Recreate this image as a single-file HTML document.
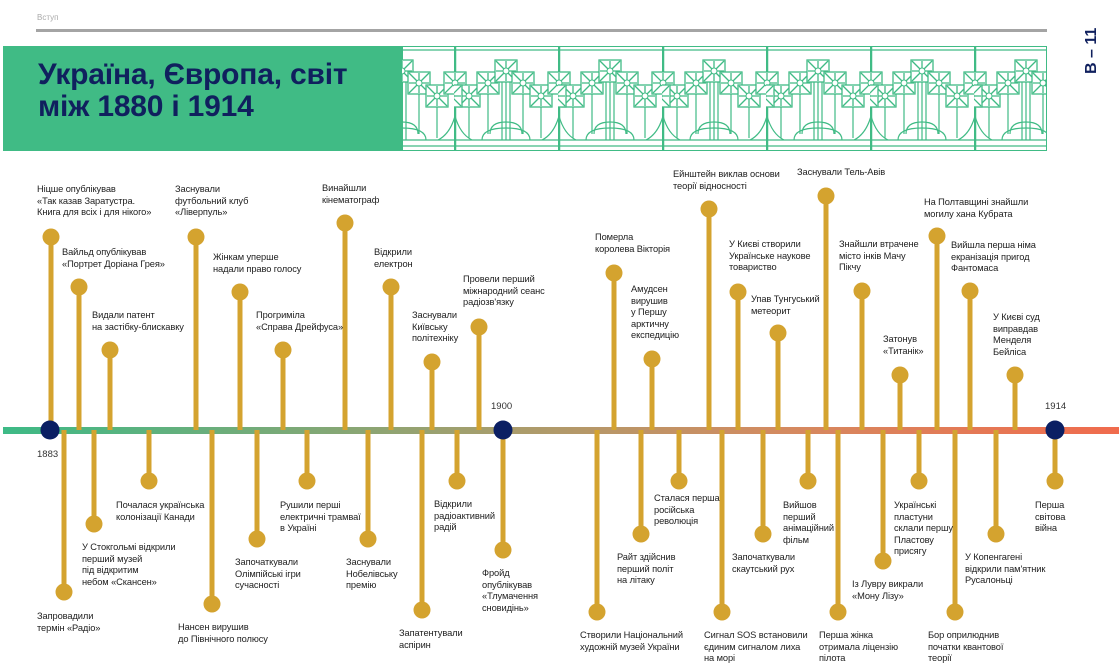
<!DOCTYPE html>
<html><head><meta charset="utf-8"><style>
*{margin:0;padding:0;box-sizing:border-box}
body{width:1119px;height:672px;position:relative;background:#fff;overflow:hidden;font-family:"Liberation Sans","DejaVu Sans",sans-serif;color:#1e1e1e}
.t{position:absolute;font-size:9.3px;line-height:11.6px;white-space:nowrap;letter-spacing:-0.1px}
.y{position:absolute;font-size:9.5px;color:#333}
</style></head><body>
<div class="y" style="left:37px;top:13px;color:#aaa;font-size:8px">Вступ</div>
<div style="position:absolute;left:36px;top:29px;width:1011px;height:3px;background:#a4a4a4"></div>
<div style="position:absolute;left:3px;top:46px;width:400px;height:105px;background:#40bb85"></div>
<div style="position:absolute;left:38px;top:59px;font-size:30px;line-height:32px;font-weight:bold;color:#10205e;letter-spacing:-0.2px">Україна, Європа, світ<br>між 1880 і 1914</div>
<div style="position:absolute;left:1083px;top:74px;transform:rotate(-90deg);transform-origin:0 0;font-size:16px;font-weight:bold;color:#10205e;white-space:nowrap;width:44px">В – 11</div>

<svg style="position:absolute;left:0;top:0" width="1119" height="672">
<defs>
<g id="fl"><rect x="-11" y="-11" width="22" height="22" fill="#fff" stroke="#40bb85" stroke-width="1.3"/><g stroke="#40bb85" stroke-width="1.3"><line x1="-10" y1="-10" x2="10" y2="10"/><line x1="10" y1="-10" x2="-10" y2="10"/><line x1="0" y1="-10" x2="0" y2="10"/><line x1="-10" y1="0" x2="10" y2="0"/></g><circle r="3" fill="#fff" stroke="#40bb85"/></g>
<pattern id="orn" x="350" y="46" width="104" height="105" patternUnits="userSpaceOnUse">
<g fill="none" stroke="#40bb85" stroke-width="1.2">
<line x1="1" y1="0" x2="1" y2="105" stroke-width="2.5"/>
<line x1="0" y1="4" x2="104" y2="4"/><line x1="0" y1="100" x2="104" y2="100"/>
<line x1="0" y1="94" x2="104" y2="94"/>
<path d="M15 50V92M34 37V88M52 25V94M69 37V88M87 50V92M48 25V94M56 25V94"/>
<path d="M36 88 Q36 76 52 76 Q68 76 68 88 M28 94 Q28 82 52 82 Q76 82 76 94"/>
<path d="M1 70 Q6 88 18 94 M1 70 Q-4 88 -16 94 M105 70 Q100 88 88 94"/>
</g>
<use href="#fl" x="1" y="37"/><use href="#fl" x="15" y="50"/><use href="#fl" x="34" y="37"/><use href="#fl" x="52" y="25"/><use href="#fl" x="69" y="37"/><use href="#fl" x="87" y="50"/><use href="#fl" x="105" y="37"/><use href="#fl" x="-3" y="50"/>
</pattern>
<linearGradient id="tl" x1="0" x2="1"><stop offset="0" stop-color="#3dba86"/><stop offset="0.45" stop-color="#a99d6c"/><stop offset="0.7" stop-color="#d48a60"/><stop offset="1" stop-color="#f06b4d"/></linearGradient>
</defs>
<rect x="401" y="46" width="646" height="105" fill="url(#orn)"/>
<rect x="401.5" y="46.5" width="645" height="104" fill="none" stroke="#40bb85"/>
<rect x="3" y="427" width="1116" height="7" fill="url(#tl)"/>
<g stroke="#d4a32f" stroke-width="5" fill="#d4a32f">
<line x1="51" y1="237" x2="51" y2="430"/><circle cx="51" cy="237" r="8.5" stroke="none"/>
<line x1="79" y1="287" x2="79" y2="430"/><circle cx="79" cy="287" r="8.5" stroke="none"/>
<line x1="110" y1="350" x2="110" y2="430"/><circle cx="110" cy="350" r="8.5" stroke="none"/>
<line x1="196" y1="237" x2="196" y2="430"/><circle cx="196" cy="237" r="8.5" stroke="none"/>
<line x1="240" y1="292" x2="240" y2="430"/><circle cx="240" cy="292" r="8.5" stroke="none"/>
<line x1="283" y1="350" x2="283" y2="430"/><circle cx="283" cy="350" r="8.5" stroke="none"/>
<line x1="345" y1="223" x2="345" y2="430"/><circle cx="345" cy="223" r="8.5" stroke="none"/>
<line x1="391" y1="287" x2="391" y2="430"/><circle cx="391" cy="287" r="8.5" stroke="none"/>
<line x1="432" y1="362" x2="432" y2="430"/><circle cx="432" cy="362" r="8.5" stroke="none"/>
<line x1="479" y1="327" x2="479" y2="430"/><circle cx="479" cy="327" r="8.5" stroke="none"/>
<line x1="614" y1="273" x2="614" y2="430"/><circle cx="614" cy="273" r="8.5" stroke="none"/>
<line x1="652" y1="359" x2="652" y2="430"/><circle cx="652" cy="359" r="8.5" stroke="none"/>
<line x1="709" y1="209" x2="709" y2="430"/><circle cx="709" cy="209" r="8.5" stroke="none"/>
<line x1="738" y1="292" x2="738" y2="430"/><circle cx="738" cy="292" r="8.5" stroke="none"/>
<line x1="778" y1="333" x2="778" y2="430"/><circle cx="778" cy="333" r="8.5" stroke="none"/>
<line x1="826" y1="196" x2="826" y2="430"/><circle cx="826" cy="196" r="8.5" stroke="none"/>
<line x1="862" y1="291" x2="862" y2="430"/><circle cx="862" cy="291" r="8.5" stroke="none"/>
<line x1="900" y1="375" x2="900" y2="430"/><circle cx="900" cy="375" r="8.5" stroke="none"/>
<line x1="937" y1="236" x2="937" y2="430"/><circle cx="937" cy="236" r="8.5" stroke="none"/>
<line x1="970" y1="291" x2="970" y2="430"/><circle cx="970" cy="291" r="8.5" stroke="none"/>
<line x1="1015" y1="375" x2="1015" y2="430"/><circle cx="1015" cy="375" r="8.5" stroke="none"/>
<line x1="64" y1="430" x2="64" y2="592"/><circle cx="64" cy="592" r="8.5" stroke="none"/>
<line x1="94" y1="430" x2="94" y2="524"/><circle cx="94" cy="524" r="8.5" stroke="none"/>
<line x1="149" y1="430" x2="149" y2="481"/><circle cx="149" cy="481" r="8.5" stroke="none"/>
<line x1="212" y1="430" x2="212" y2="604"/><circle cx="212" cy="604" r="8.5" stroke="none"/>
<line x1="257" y1="430" x2="257" y2="539"/><circle cx="257" cy="539" r="8.5" stroke="none"/>
<line x1="307" y1="430" x2="307" y2="481"/><circle cx="307" cy="481" r="8.5" stroke="none"/>
<line x1="368" y1="430" x2="368" y2="539"/><circle cx="368" cy="539" r="8.5" stroke="none"/>
<line x1="422" y1="430" x2="422" y2="610"/><circle cx="422" cy="610" r="8.5" stroke="none"/>
<line x1="457" y1="430" x2="457" y2="481"/><circle cx="457" cy="481" r="8.5" stroke="none"/>
<line x1="503" y1="430" x2="503" y2="550"/><circle cx="503" cy="550" r="8.5" stroke="none"/>
<line x1="597" y1="430" x2="597" y2="612"/><circle cx="597" cy="612" r="8.5" stroke="none"/>
<line x1="641" y1="430" x2="641" y2="534"/><circle cx="641" cy="534" r="8.5" stroke="none"/>
<line x1="679" y1="430" x2="679" y2="481"/><circle cx="679" cy="481" r="8.5" stroke="none"/>
<line x1="722" y1="430" x2="722" y2="612"/><circle cx="722" cy="612" r="8.5" stroke="none"/>
<line x1="763" y1="430" x2="763" y2="534"/><circle cx="763" cy="534" r="8.5" stroke="none"/>
<line x1="808" y1="430" x2="808" y2="481"/><circle cx="808" cy="481" r="8.5" stroke="none"/>
<line x1="838" y1="430" x2="838" y2="612"/><circle cx="838" cy="612" r="8.5" stroke="none"/>
<line x1="883" y1="430" x2="883" y2="561"/><circle cx="883" cy="561" r="8.5" stroke="none"/>
<line x1="919" y1="430" x2="919" y2="481"/><circle cx="919" cy="481" r="8.5" stroke="none"/>
<line x1="955" y1="430" x2="955" y2="612"/><circle cx="955" cy="612" r="8.5" stroke="none"/>
<line x1="996" y1="430" x2="996" y2="534"/><circle cx="996" cy="534" r="8.5" stroke="none"/>
<line x1="1055" y1="430" x2="1055" y2="481"/><circle cx="1055" cy="481" r="8.5" stroke="none"/>
</g>
<g fill="#0b1f63"><circle cx="50" cy="430" r="9.5"/><circle cx="503" cy="430" r="9.5"/><circle cx="1055" cy="430" r="9.5"/></g>
</svg>

<div class="y" style="left:37px;top:449px">1883</div>
<div class="y" style="left:491px;top:401px">1900</div>
<div class="y" style="left:1045px;top:401px">1914</div>

<div class="t" style="left:37px;top:184px">Ніцше опублікував<br>«Так казав Заратустра.<br>Книга для всіх і для нікого»</div>
<div class="t" style="left:62px;top:247px">Вайльд опублікував<br>«Портрет Доріана Грея»</div>
<div class="t" style="left:92px;top:310px">Видали патент<br>на застібку-блискавку</div>
<div class="t" style="left:175px;top:184px">Заснували<br>футбольний клуб<br>«Ліверпуль»</div>
<div class="t" style="left:213px;top:252px">Жінкам уперше<br>надали право голосу</div>
<div class="t" style="left:256px;top:310px">Прогриміла<br>«Справа Дрейфуса»</div>
<div class="t" style="left:322px;top:183px">Винайшли<br>кінематограф</div>
<div class="t" style="left:374px;top:247px">Відкрили<br>електрон</div>
<div class="t" style="left:412px;top:310px">Заснували<br>Київську<br>політехніку</div>
<div class="t" style="left:463px;top:274px">Провели перший<br>міжнародний сеанс<br>радіозв'язку</div>
<div class="t" style="left:595px;top:232px">Померла<br>королева Вікторія</div>
<div class="t" style="left:631px;top:284px">Амудсен<br>вирушив<br>у Першу<br>арктичну<br>експедицію</div>
<div class="t" style="left:673px;top:169px">Ейнштейн виклав основи<br>теорії відносності</div>
<div class="t" style="left:729px;top:239px">У Києві створили<br>Українське наукове<br>товариство</div>
<div class="t" style="left:751px;top:294px">Упав Тунгуський<br>метеорит</div>
<div class="t" style="left:797px;top:167px">Заснували Тель-Авів</div>
<div class="t" style="left:839px;top:239px">Знайшли втрачене<br>місто інків Мачу<br>Пікчу</div>
<div class="t" style="left:883px;top:334px">Затонув<br>«Титанік»</div>
<div class="t" style="left:924px;top:197px">На Полтавщині знайшли<br>могилу хана Кубрата</div>
<div class="t" style="left:951px;top:240px">Вийшла перша німа<br>екранізація пригод<br>Фантомаса</div>
<div class="t" style="left:993px;top:312px">У Києві суд<br>виправдав<br>Менделя<br>Бейліса</div>

<div class="t" style="left:37px;top:611px">Запровадили<br>термін «Радіо»</div>
<div class="t" style="left:82px;top:542px">У Стокгольмі відкрили<br>перший музей<br>під відкритим<br>небом «Скансен»</div>
<div class="t" style="left:116px;top:500px">Почалася  українська<br>колонізації Канади</div>
<div class="t" style="left:178px;top:622px">Нансен вирушив<br>до Північного полюсу</div>
<div class="t" style="left:235px;top:557px">Започаткували<br>Олімпійські ігри<br>сучасності</div>
<div class="t" style="left:280px;top:500px">Рушили перші<br>електричні трамваї<br>в Україні</div>
<div class="t" style="left:346px;top:557px">Заснували<br>Нобелівську<br>премію</div>
<div class="t" style="left:399px;top:628px">Запатентували<br>аспірин</div>
<div class="t" style="left:434px;top:499px">Відкрили<br>радіоактивний<br>радій</div>
<div class="t" style="left:482px;top:568px">Фройд<br>опублікував<br>«Тлумачення<br>сновидінь»</div>
<div class="t" style="left:580px;top:630px">Створили Національний<br>художній музей України</div>
<div class="t" style="left:617px;top:552px">Райт здійснив<br>перший політ<br>на літаку</div>
<div class="t" style="left:654px;top:493px">Сталася перша<br>російська<br>революція</div>
<div class="t" style="left:704px;top:630px">Сигнал SOS встановили<br>єдиним сигналом лиха<br>на морі</div>
<div class="t" style="left:732px;top:552px">Започаткували<br>скаутський рух</div>
<div class="t" style="left:783px;top:500px">Вийшов<br>перший<br>анімаційний<br>фільм</div>
<div class="t" style="left:819px;top:630px">Перша жінка<br>отримала ліцензію<br>пілота</div>
<div class="t" style="left:852px;top:579px">Із Лувру викрали<br>«Мону Лізу»</div>
<div class="t" style="left:894px;top:500px">Українські<br>пластуни<br>склали першу<br>Пластову<br>присягу</div>
<div class="t" style="left:928px;top:630px">Бор оприлюднив<br>початки квантової<br>теорії</div>
<div class="t" style="left:965px;top:552px">У Копенгагені<br>відкрили пам'ятник<br>Русалоньці</div>
<div class="t" style="left:1035px;top:500px">Перша<br>світова<br>війна</div>
</body></html>
